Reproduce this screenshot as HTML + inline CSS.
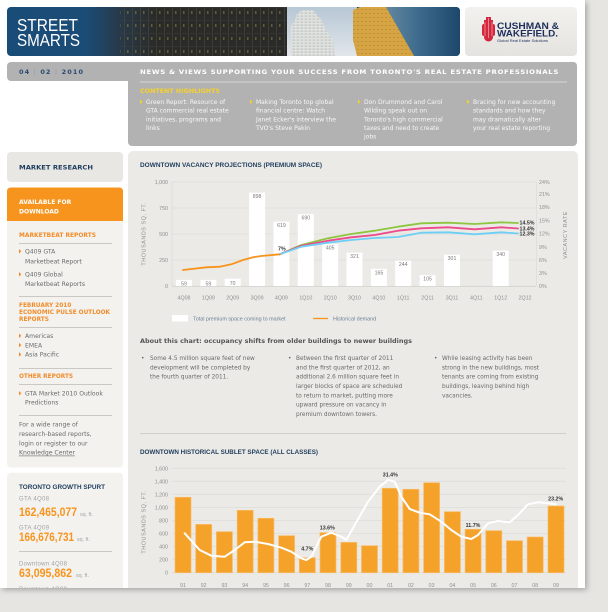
<!DOCTYPE html>
<html><head><meta charset="utf-8"><style>
html,body{margin:0;padding:0;width:608px;height:612px;overflow:hidden;background:#e6e5e2}
svg{display:block}
</style></head><body>
<svg width="608" height="612" viewBox="0 0 608 612" xmlns="http://www.w3.org/2000/svg">
<defs>
<filter id="sh" x="-5%" y="-5%" width="112%" height="112%"><feDropShadow dx="2" dy="2" stdDeviation="3" flood-color="#000" flood-opacity="0.28"/></filter>
<clipPath id="paper"><rect x="0" y="0" width="585" height="588"/></clipPath>
<clipPath id="ban"><rect x="7" y="7" width="453" height="49" rx="4"/></clipPath>
<linearGradient id="blue" x1="0" x2="1" y1="0" y2="0"><stop offset="0" stop-color="#1a4c78"/><stop offset="1" stop-color="#1d4a6e"/></linearGradient>
<linearGradient id="dark" gradientUnits="userSpaceOnUse" x1="85" y1="0" x2="155" y2="0"><stop offset="0" stop-color="#2a3a48" stop-opacity="0"/><stop offset="0.5" stop-color="#2b3640" stop-opacity="0.85"/><stop offset="1" stop-color="#2a2b28" stop-opacity="1"/></linearGradient>
<linearGradient id="sky" x1="0" x2="0" y1="0" y2="1"><stop offset="0" stop-color="#b7c7d5"/><stop offset="1" stop-color="#e1e6ea"/></linearGradient>
<linearGradient id="glass" x1="0" x2="1" y1="0" y2="0"><stop offset="0" stop-color="#6b8ea6"/><stop offset="0.5" stop-color="#3d6b8c"/><stop offset="1" stop-color="#1d476b"/></linearGradient>
<linearGradient id="logo" x1="0" x2="0" y1="0" y2="1"><stop offset="0" stop-color="#f2f1ee"/><stop offset="1" stop-color="#e4e3df"/></linearGradient>
<pattern id="win" width="8" height="13" patternUnits="userSpaceOnUse" x="100" y="7">
<rect width="8" height="13" fill="none"/><line x1="0.5" y1="0" x2="0.5" y2="13" stroke="#4a4b46" stroke-width="0.8"/><line x1="0" y1="0.5" x2="8" y2="0.5" stroke="#3c3d39" stroke-width="0.8"/><rect x="3" y="4" width="1.5" height="3" fill="#8f8440" opacity="0.8"/></pattern>
<pattern id="twin" width="4" height="3" patternUnits="userSpaceOnUse"><rect width="4" height="3" fill="#dfe2de"/><rect x="0.5" y="0.6" width="2.6" height="1" fill="#b8bfbf"/></pattern>
<pattern id="gwin" width="4" height="4" patternUnits="userSpaceOnUse"><rect width="4" height="4" fill="#d6a442"/><rect x="1" y="1" width="2" height="1" fill="#a3782a" opacity="0.4"/></pattern>
</defs>

<rect width="608" height="612" fill="#e6e5e2"/>
<rect x="0" y="0" width="585" height="588" fill="#fff" filter="url(#sh)"/>

<g clip-path="url(#paper)">
<!-- Banner -->
<g clip-path="url(#ban)">
<rect x="7" y="7" width="453" height="49" fill="url(#blue)"/>
<rect x="85" y="7" width="202" height="49" fill="url(#dark)"/>
<rect x="120" y="7" width="167" height="49" fill="url(#win)" opacity="0.7"/>
<rect x="287" y="7" width="70" height="49" fill="url(#sky)"/>
<polygon points="291,56 291,26 295,21 297,13 304,10 313,10 317,15 322,21 327,32 333,40 335,56" fill="url(#twin)"/>
<rect x="378" y="7" width="82" height="49" fill="url(#glass)"/>
<polygon points="353,10 360,7 386,7 398,28 414,56 357,56 353,40" fill="url(#gwin)"/>
<text x="17" y="31" font-family="Liberation Sans, sans-serif" font-size="17.5" fill="#fff" textLength="61" lengthAdjust="spacingAndGlyphs">STREET</text>
<text x="17" y="46" font-family="Liberation Sans, sans-serif" font-size="17.5" fill="#fff" textLength="63" lengthAdjust="spacingAndGlyphs">SMARTS</text>
</g>
<!-- Logo -->
<rect x="465" y="7" width="112" height="49" rx="4" fill="url(#logo)"/>
<g fill="#d4263c">
<rect x="482" y="24" width="13" height="12" rx="2"/>
<rect x="484" y="20" width="9" height="5"/>
<rect x="486" y="17" width="5" height="4"/>
<circle cx="488.5" cy="37" r="4.5"/>
</g>
<g stroke="#f4c7cd" stroke-width="0.6"><line x1="485" y1="22" x2="485" y2="36"/><line x1="488.5" y1="18" x2="488.5" y2="38"/><line x1="492" y1="22" x2="492" y2="36"/></g>
<text x="497" y="29" font-family="Liberation Sans, sans-serif" font-weight="bold" font-size="8.8" fill="#1d2e5c" textLength="62" lengthAdjust="spacingAndGlyphs">CUSHMAN &amp;</text>
<text x="497" y="36.7" font-family="Liberation Sans, sans-serif" font-weight="bold" font-size="8.8" fill="#1d2e5c" textLength="61" lengthAdjust="spacingAndGlyphs">WAKEFIELD.</text>
<text x="497" y="42" font-family="Liberation Sans, sans-serif" font-size="3.6" fill="#1d2e5c" textLength="51" lengthAdjust="spacingAndGlyphs">Global Real Estate Solutions</text>

<!-- Gray bar -->
<rect x="7" y="62" width="570" height="19" rx="4" fill="#b2b2b2"/>
<rect x="128" y="62" width="449" height="84" rx="4" fill="#b2b2b2"/>
<text x="19" y="73.8" font-family="DejaVu Sans, sans-serif" font-weight="bold" font-size="6.5" fill="#2b4a6e" textLength="64" lengthAdjust="spacing">04 <tspan fill="#8ea3b7">|</tspan> 02 <tspan fill="#8ea3b7">|</tspan> 2010</text>
<text x="140" y="73.8" font-family="DejaVu Sans, sans-serif" font-weight="bold" font-size="6.3" fill="#ffffff" textLength="419" lengthAdjust="spacingAndGlyphs" letter-spacing="0.6">NEWS &amp; VIEWS SUPPORTING YOUR SUCCESS FROM TORONTO'S REAL ESTATE PROFESSIONALS</text>
<line x1="140" y1="82" x2="567" y2="82" stroke="#d6d6d6" stroke-width="1"/>
<text x="140" y="93" font-family="DejaVu Sans, sans-serif" font-weight="bold" font-size="6.5" fill="#f6d12b" textLength="80" lengthAdjust="spacingAndGlyphs">CONTENT HIGHLIGHTS</text>
<g fill="#f6d12b">
<polygon points="140,99.5 142.5,101.8 140,104.1"/>
<polygon points="250,99.5 252.5,101.8 250,104.1"/>
<polygon points="358,99.5 360.5,101.8 358,104.1"/>
<polygon points="467,99.5 469.5,101.8 467,104.1"/>
</g>
<g font-family="DejaVu Sans, sans-serif" font-size="6" fill="#f7f7f7">
<text x="146" y="104">Green Report: Resource of</text>
<text x="146" y="112.7">GTA commercial real estate</text>
<text x="146" y="121.3">initiatives, programs and</text>
<text x="146" y="130">links</text>
<text x="256" y="104">Making Toronto top global</text>
<text x="256" y="112.7">financial centre: Watch</text>
<text x="256" y="121.3">Janet Ecker's interview the</text>
<text x="256" y="130">TVO's Steve Pakin</text>
<text x="364" y="104">Don Drummond and Carol</text>
<text x="364" y="112.7">Wilding speak out on</text>
<text x="364" y="121.3">Toronto's high commercial</text>
<text x="364" y="130">taxes and need to create</text>
<text x="364" y="138.7">jobs</text>
<text x="473" y="104">Bracing for new accounting</text>
<text x="473" y="112.7">standards and how they</text>
<text x="473" y="121.3">may dramatically alter</text>
<text x="473" y="130">your real estate reporting</text>
</g>

<!-- Sidebar -->
<rect x="7" y="152" width="116" height="30" rx="4" fill="#e8e7e4"/>
<text x="19" y="169.5" font-family="DejaVu Sans, sans-serif" font-weight="bold" font-size="6.5" fill="#1f3d5c" textLength="74" lengthAdjust="spacingAndGlyphs">MARKET RESEARCH</text>
<rect x="7" y="187.5" width="116" height="280" rx="4" fill="#f3f2ef"/>
<path d="M7,221 L7,191.5 Q7,187.5 11,187.5 L119,187.5 Q123,187.5 123,191.5 L123,221 Z" fill="#f7941e"/>
<g font-family="DejaVu Sans, sans-serif" font-weight="bold" font-size="6" fill="#fff">
<text x="19" y="204">AVAILABLE FOR</text>
<text x="19" y="213.5">DOWNLOAD</text>
</g>
<g font-family="DejaVu Sans, sans-serif" font-weight="bold" font-size="5.8" fill="#f28c28">
<text x="19" y="237" textLength="77" lengthAdjust="spacingAndGlyphs">MARKETBEAT REPORTS</text>
<text x="19" y="307">FEBRUARY 2010</text>
<text x="19" y="314" textLength="91" lengthAdjust="spacingAndGlyphs">ECONOMIC PULSE OUTLOOK</text>
<text x="19" y="321">REPORTS</text>
<text x="19" y="378">OTHER REPORTS</text>
</g>
<g stroke="#c9c8c5" stroke-width="1">
<line x1="19" y1="243.5" x2="112" y2="243.5"/>
<line x1="19" y1="296.5" x2="112" y2="296.5"/>
<line x1="19" y1="327.5" x2="112" y2="327.5"/>
<line x1="19" y1="368.5" x2="112" y2="368.5"/>
<line x1="19" y1="384.5" x2="112" y2="384.5"/>
<line x1="19" y1="415.5" x2="112" y2="415.5"/>
</g>
<g fill="#f28c28">
<polygon points="19,249 21.3,251.3 19,253.6"/>
<polygon points="19,272 21.3,274.3 19,276.6"/>
<polygon points="19,333.5 21.3,335.8 19,338.1"/>
<polygon points="19,342.8 21.3,345.1 19,347.4"/>
<polygon points="19,352.1 21.3,354.4 19,356.7"/>
<polygon points="19,391 21.3,393.3 19,395.6"/>
</g>
<g font-family="DejaVu Sans, sans-serif" font-size="6.1" fill="#6b6b6b">
<text x="25" y="253.5">Q409 GTA</text>
<text x="25" y="263.5">Marketbeat Report</text>
<text x="25" y="276.5">Q409 Global</text>
<text x="25" y="285.8">Marketbeat Reports</text>
<text x="25" y="338">Americas</text>
<text x="25" y="347.3">EMEA</text>
<text x="25" y="356.6">Asia Pacific</text>
<text x="25" y="395.6">GTA Market 2010 Outlook</text>
<text x="25" y="404.6">Predictions</text>
<text x="19" y="426.6">For a wide range of</text>
<text x="19" y="436">research-based reports,</text>
<text x="19" y="445.3">login or register to our</text>
<text x="19" y="454.6" text-decoration="underline">Knowledge Center</text>
</g>

<rect x="7" y="472.7" width="116" height="125" rx="4" fill="#f3f2ef"/>
<text x="19" y="489" font-family="Liberation Sans, sans-serif" font-weight="bold" font-size="6.3" fill="#1f3d5c" textLength="86" lengthAdjust="spacingAndGlyphs">TORONTO GROWTH SPURT</text>
<g font-family="Liberation Sans, sans-serif" font-size="6" fill="#a3a3a3" letter-spacing="0.3">
<text x="19" y="500.5">GTA 4Q08</text>
<text x="19" y="529.5">GTA 4Q09</text>
<text x="19" y="565.5">Downtown 4Q08</text>
<text x="19" y="591">Downtown 4Q09</text>
</g>
<g font-family="Liberation Sans, sans-serif" font-weight="bold" font-size="11.5" fill="#f7941e">
<text x="19" y="516" textLength="58" lengthAdjust="spacingAndGlyphs">162,465,077</text>
<text x="19" y="541" textLength="55" lengthAdjust="spacingAndGlyphs">166,676,731</text>
<text x="19" y="577" textLength="53" lengthAdjust="spacingAndGlyphs">63,095,862</text>
</g>
<g font-family="Liberation Sans, sans-serif" font-size="5.3" fill="#a3a3a3">
<text x="80" y="516">sq. ft.</text>
<text x="77" y="541">sq. ft.</text>
<text x="76" y="577">sq. ft.</text>
</g>
<line x1="19" y1="551.5" x2="112" y2="551.5" stroke="#c9c8c5" stroke-width="1"/>

<!-- Main panel -->
<rect x="128" y="151" width="450" height="445" rx="5" fill="#ebeae7"/>

<!-- Chart 1 -->
<text x="140" y="167" font-family="Liberation Sans, sans-serif" font-weight="bold" font-size="6.6" fill="#1f3d5c" textLength="182" lengthAdjust="spacingAndGlyphs">DOWNTOWN VACANCY PROJECTIONS (PREMIUM SPACE)</text>
<g stroke="#dddcd8" stroke-width="0.8">
<line x1="172" y1="182" x2="536" y2="182"/>
<line x1="172" y1="208" x2="536" y2="208"/>
<line x1="172" y1="234" x2="536" y2="234"/>
<line x1="172" y1="260" x2="536" y2="260"/>
<line x1="172" y1="182" x2="172" y2="286"/>
<line x1="536.5" y1="182" x2="536.5" y2="286"/>
</g>
<line x1="172" y1="286.3" x2="536" y2="286.3" stroke="#d2d1cd" stroke-width="0.8"/>
<g font-family="Liberation Sans, sans-serif" font-size="5.3" fill="#8f8f8f" text-anchor="end">
<text x="168" y="184">1,000</text><text x="168" y="210">750</text><text x="168" y="236">500</text><text x="168" y="262">250</text><text x="168" y="288">0</text>
</g>
<g font-family="Liberation Sans, sans-serif" font-size="5.3" fill="#8f8f8f">
<text x="539" y="184">24%</text><text x="539" y="196">21%</text><text x="539" y="209">18%</text><text x="539" y="222.5">15%</text><text x="539" y="235.5">12%</text><text x="539" y="249">9%</text><text x="539" y="262">6%</text><text x="539" y="275">3%</text><text x="539" y="288">0%</text>
</g>
<text transform="translate(145.5,234) rotate(-90)" text-anchor="middle" font-family="Liberation Sans, sans-serif" font-size="5.5" fill="#8f8f8f" letter-spacing="0.5">THOUSANDS SQ. FT.</text>
<text transform="translate(567,235) rotate(-90)" text-anchor="middle" font-family="Liberation Sans, sans-serif" font-size="5.5" fill="#8f8f8f" letter-spacing="0.5">VACANCY RATE</text>
<g fill="#ffffff">
<rect x="176" y="279.9" width="16" height="6.1"/>
<rect x="200.4" y="279.9" width="16" height="6.1"/>
<rect x="224.7" y="278.7" width="16" height="7.3"/>
<rect x="249.1" y="192.6" width="16" height="93.4"/>
<rect x="273.4" y="221.6" width="16" height="64.4"/>
<rect x="297.8" y="214.2" width="16" height="71.8"/>
<rect x="322.2" y="243.9" width="16" height="42.1"/>
<rect x="346.5" y="252.6" width="16" height="33.4"/>
<rect x="370.9" y="268.8" width="16" height="17.2"/>
<rect x="395.2" y="260.6" width="16" height="25.4"/>
<rect x="419.6" y="275.1" width="16" height="10.9"/>
<rect x="444" y="254.7" width="16" height="31.3"/>
<rect x="492.7" y="250.6" width="16" height="35.4"/>
</g>
<g font-family="Liberation Sans, sans-serif" font-size="5.2" fill="#7a7a7a" text-anchor="middle">
<text x="184" y="285.3">59</text><text x="208.4" y="285.3">59</text><text x="232.7" y="285">70</text>
<text x="257.1" y="198">898</text><text x="281.4" y="227.1">619</text><text x="305.8" y="219.7">690</text>
<text x="330.2" y="249.4">405</text><text x="354.5" y="258.1">321</text><text x="378.9" y="274.3">165</text>
<text x="403.2" y="266.1">244</text><text x="427.6" y="280.6">105</text><text x="452" y="260.2">301</text>
<text x="500.7" y="256.1">340</text>
</g>
<g font-family="Liberation Sans, sans-serif" font-size="5.3" fill="#8f8f8f" text-anchor="middle">
<text x="184" y="299.5">4Q08</text><text x="208.4" y="299.5">1Q09</text><text x="232.7" y="299.5">2Q09</text><text x="257.1" y="299.5">3Q09</text><text x="281.4" y="299.5">4Q09</text><text x="305.8" y="299.5">1Q10</text><text x="330.2" y="299.5">2Q10</text><text x="354.5" y="299.5">3Q10</text><text x="378.9" y="299.5">4Q10</text><text x="403.2" y="299.5">1Q11</text><text x="427.6" y="299.5">2Q11</text><text x="452" y="299.5">3Q11</text><text x="476.3" y="299.5">4Q11</text><text x="500.7" y="299.5">1Q12</text><text x="525" y="299.5">2Q12</text>
</g>
<g fill="none" stroke-width="1.8" stroke-linejoin="round" stroke-linecap="round">
<polyline stroke="#8dc63f" points="279.7,254.3 301.3,245 328,238.3 351.3,234 374.7,230.7 398,226.7 421.3,223.3 448,222.7 474.7,224 501.3,222.3 518,223"/>
<polyline stroke="#ec4a8a" points="279.7,254.3 301.3,245.7 328,240.7 351.3,237.3 374.7,235 398,230.7 421.3,228.3 448,227.3 474.7,229.3 501.3,227.3 518,228.5"/>
<polyline stroke="#6dcff6" points="279.7,254.3 301.3,246.7 328,242.7 351.3,240 374.7,238 398,237 421.3,232.7 448,232.3 474.7,234.3 501.3,232.3 518,233.5"/>
<polyline stroke="#f7941d" points="183,270 206.3,267.3 219.7,266.7 231.3,264.3 243,260 253,257.3 261.3,256 279.7,254.3"/>
</g>
<g font-family="Liberation Sans, sans-serif" font-weight="bold" font-size="5.3" fill="#333">
<text x="519.5" y="224.6">14.5%</text>
<text x="519.5" y="230.5">13.4%</text>
<text x="519.5" y="235.6">12.3%</text>
<text x="278" y="250.5">7%</text>
</g>
<!-- legend -->
<rect x="172" y="315" width="16" height="6.5" fill="#fff"/>
<text x="193" y="320.3" font-family="Liberation Sans, sans-serif" font-size="5.4" fill="#6d8197">Total premium space coming to market</text>
<line x1="313" y1="318.5" x2="328" y2="318.5" stroke="#f7941d" stroke-width="1.3"/>
<text x="333" y="320.3" font-family="Liberation Sans, sans-serif" font-size="5.4" fill="#6d8197">Historical demand</text>

<text x="140" y="343" font-family="DejaVu Sans, sans-serif" font-weight="bold" font-size="6" fill="#555" textLength="272" lengthAdjust="spacingAndGlyphs">About this chart: occupancy shifts from older buildings to newer buildings</text>
<g font-family="DejaVu Sans, sans-serif" font-size="5.8" fill="#6a6a6a">
<text x="141" y="360">•</text><text x="288" y="360">•</text><text x="434" y="360">•</text>
<text x="150" y="360">Some 4.5 million square feet of new</text>
<text x="150" y="369.3">development will be completed by</text>
<text x="150" y="378.7">the fourth quarter of 2011.</text>
<text x="296" y="360">Between the first quarter of 2011</text>
<text x="296" y="369.3">and the first quarter of 2012, an</text>
<text x="296" y="378.7">additional 2.6 million square feet in</text>
<text x="296" y="388">larger blocks of space are scheduled</text>
<text x="296" y="397.3">to return to market, putting more</text>
<text x="296" y="406.7">upward pressure on vacancy in</text>
<text x="296" y="416">premium downtown towers.</text>
<text x="442" y="360">While leasing activity has been</text>
<text x="442" y="369.3">strong in the new buildings, most</text>
<text x="442" y="378.7">tenants are coming from existing</text>
<text x="442" y="388">buildings, leaving behind high</text>
<text x="442" y="397.3">vacancies.</text>
</g>
<line x1="140" y1="433.5" x2="566" y2="433.5" stroke="#d0cfcb" stroke-width="1"/>

<!-- Chart 2 -->
<text x="140" y="454" font-family="Liberation Sans, sans-serif" font-weight="bold" font-size="6.6" fill="#1f3d5c" textLength="178" lengthAdjust="spacingAndGlyphs">DOWNTOWN HISTORICAL SUBLET SPACE (ALL CLASSES)</text>
<g stroke="#dddcd8" stroke-width="0.8">
<line x1="172" y1="468.3" x2="566" y2="468.3"/>
<line x1="172" y1="481.3" x2="566" y2="481.3"/>
<line x1="172" y1="494.3" x2="566" y2="494.3"/>
<line x1="172" y1="507.4" x2="566" y2="507.4"/>
<line x1="172" y1="520.5" x2="566" y2="520.5"/>
<line x1="172" y1="533.5" x2="566" y2="533.5"/>
<line x1="172" y1="546.6" x2="566" y2="546.6"/>
<line x1="172" y1="559.6" x2="566" y2="559.6"/>
<line x1="172" y1="572.7" x2="566" y2="572.7"/>
</g>
<g font-family="Liberation Sans, sans-serif" font-size="5.3" fill="#8f8f8f" text-anchor="end">
<text x="168" y="470.3">1,600</text><text x="168" y="483.3">1,400</text><text x="168" y="496.3">1,200</text><text x="168" y="509.4">1,000</text><text x="168" y="522.5">800</text><text x="168" y="535.5">600</text><text x="168" y="548.6">400</text><text x="168" y="561.6">200</text><text x="168" y="574.7">0</text>
</g>
<text transform="translate(145.5,522) rotate(-90)" text-anchor="middle" font-family="Liberation Sans, sans-serif" font-size="5.5" fill="#8f8f8f" letter-spacing="0.5">THOUSANDS SQ. FT.</text>
<g fill="#f5a22b" stroke="#f8bd66" stroke-width="0.7">
<rect x="175" y="497.3" width="16" height="75.4"/>
<rect x="195.7" y="524.4" width="16" height="48.3"/>
<rect x="216.4" y="531.7" width="16" height="41"/>
<rect x="237.2" y="510.3" width="16" height="62.4"/>
<rect x="257.9" y="518.3" width="16" height="54.4"/>
<rect x="278.6" y="535.7" width="16" height="37"/>
<rect x="299.3" y="557.7" width="16" height="15"/>
<rect x="320" y="532.7" width="16" height="40"/>
<rect x="340.8" y="542.4" width="16" height="30.3"/>
<rect x="361.5" y="545.7" width="16" height="27"/>
<rect x="382.2" y="488.3" width="16" height="84.4"/>
<rect x="402.9" y="489.3" width="16" height="83.4"/>
<rect x="423.6" y="482.7" width="16" height="90"/>
<rect x="444.4" y="511.7" width="16" height="61"/>
<rect x="465.1" y="529.3" width="16" height="43.4"/>
<rect x="485.8" y="530.7" width="16" height="42"/>
<rect x="506.5" y="540.7" width="16" height="32"/>
<rect x="527.2" y="537" width="16" height="35.7"/>
<rect x="548" y="506" width="16" height="66.7"/>
</g>
<polyline fill="none" stroke="#ffffff" stroke-width="2" stroke-linejoin="round" stroke-linecap="round" points="184.7,533.3 199.7,550 211.3,555.7 224.7,556.7 234.7,550 244.7,542.3 254.7,541.7 268,544 281.3,547.7 291.3,551.7 301.3,558.3 306.3,560 311.3,556.7 321.3,536.7 331.3,532.7 341.3,536.7 346.3,540 354.7,525 368,501.7 379.7,486.7 388,480 394.7,481.7 401.3,496.7 409.7,509 419.7,512.7 429.7,514.3 441.3,521.7 451.3,530 461.3,536.7 471.3,539 478,535 488,523.3 498,521 509.7,522.3 518,515 528,504.3 538,502.3 548,503.3 555.7,504.3"/>
<g font-family="Liberation Sans, sans-serif" font-weight="bold" font-size="5.3" fill="#333" text-anchor="middle">
<text x="307.3" y="550.3">4.7%</text>
<text x="327.3" y="529.3">13.6%</text>
<text x="390.3" y="476.3">31.4%</text>
<text x="473" y="527">11.7%</text>
<text x="555.7" y="500.3">23.2%</text>
</g>
<g font-family="Liberation Sans, sans-serif" font-size="5.3" fill="#8f8f8f" text-anchor="middle">
<text x="183" y="587">91</text><text x="203.7" y="587">92</text><text x="224.4" y="587">93</text><text x="245.2" y="587">94</text><text x="265.9" y="587">95</text><text x="286.6" y="587">96</text><text x="307.3" y="587">97</text><text x="328" y="587">98</text><text x="348.8" y="587">99</text><text x="369.5" y="587">00</text><text x="390.2" y="587">01</text><text x="410.9" y="587">02</text><text x="431.6" y="587">03</text><text x="452.4" y="587">04</text><text x="473.1" y="587">05</text><text x="493.8" y="587">06</text><text x="514.5" y="587">07</text><text x="535.2" y="587">08</text><text x="556" y="587">09</text>
</g>
</g>
</svg>
</body></html>
